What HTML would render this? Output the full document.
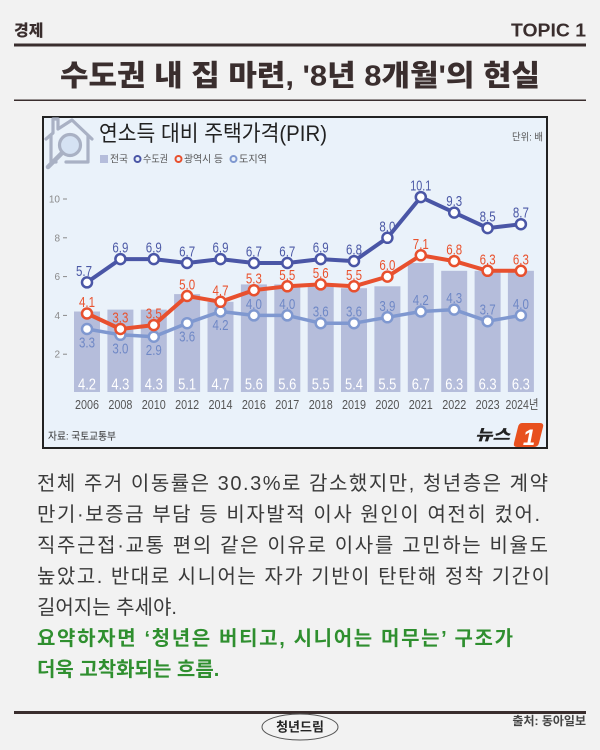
<!DOCTYPE html>
<html lang="ko">
<head>
<meta charset="utf-8">
<style>
  html,body{margin:0;padding:0;background:#f2f2f2;}
  body{width:600px;height:750px;overflow:hidden;}
  svg{display:block;}
  .kr{font-family:"Liberation Sans","Noto Sans CJK KR",sans-serif;}
  .num{font-family:"Liberation Sans","Noto Sans CJK KR",sans-serif;font-size:15px;text-anchor:middle;}
  .bl{fill:#4c59a6;}
  .rd{fill:#e9532f;}
  .lb{fill:#6f88c6;}
  .bv{font-family:"Liberation Sans",sans-serif;font-size:16px;fill:#ffffff;text-anchor:middle;}
  .yr{font-family:"Liberation Sans","Noto Sans CJK KR",sans-serif;font-size:13px;fill:#555;text-anchor:middle;}
  .tk{font-family:"Liberation Sans",sans-serif;font-size:10px;fill:#8a8a8a;text-anchor:end;}
  .body{font-family:"Liberation Sans","Noto Sans CJK KR",sans-serif;font-size:20px;fill:#3a3a3a;}
  .green{font-family:"Liberation Sans","Noto Sans CJK KR",sans-serif;font-size:20px;fill:#2f8f2f;font-weight:700;}
</style>
</head>
<body>
<svg width="600" height="750" viewBox="0 0 600 750" xmlns="http://www.w3.org/2000/svg">
  <rect x="0" y="0" width="600" height="750" fill="#f2f2f2"/>

  <!-- Header -->
  <text x="14" y="36" class="kr" font-size="16" font-weight="900" fill="#3a2e2e">경제</text>
  <text x="586" y="36.5" font-family="Liberation Sans, sans-serif" font-size="18" font-weight="700" fill="#3a2e2e" text-anchor="end" textLength="75" lengthAdjust="spacingAndGlyphs">TOPIC 1</text>
  <rect x="14" y="43.5" width="572" height="3" fill="#3a2e2e"/>
  <text x="60" y="85.5" class="kr" font-size="29" font-weight="900" fill="#3a2e2e" textLength="480" lengthAdjust="spacingAndGlyphs">수도권 내 집 마련, '8년 8개월'의 현실</text>
  <rect x="14" y="99.5" width="572" height="1.5" fill="#3a2e2e"/>

  <!-- Chart box -->
  <rect x="43" y="117" width="504" height="331" fill="#eaf2fa" stroke="#222" stroke-width="2"/>

  <!-- House icon -->
  <g fill="none" stroke="#a9b1c4" stroke-width="3.2" stroke-linejoin="round" stroke-linecap="round">
    <path d="M46,139 L53,133 L53,119 L58,119 L58,129 L72,120 L92,139"/>
    <path d="M51,136 L51,162 L56,162"/>
    <path d="M88,136 L88,162 L66,162"/>
  </g>
  <circle cx="70" cy="145" r="10.5" fill="#d5e2f3" stroke="#a9b1c4" stroke-width="3.2"/>
  <line x1="62" y1="153" x2="48" y2="167" stroke="#a9b1c4" stroke-width="4.5" stroke-linecap="round"/>

  <!-- Title -->
  <text x="99" y="141" class="kr" font-size="22" fill="#222" textLength="228" lengthAdjust="spacingAndGlyphs">연소득 대비 주택가격(PIR)</text>
  <text x="512" y="140.5" class="kr" font-size="10" fill="#555" textLength="31" lengthAdjust="spacingAndGlyphs">단위: 배</text>

  <!-- Legend -->
  <rect x="100" y="155" width="8" height="8" fill="#b5bddb"/>
  <text x="110" y="162.5" class="kr" font-size="10" fill="#555" textLength="18" lengthAdjust="spacingAndGlyphs">전국</text>
  <circle cx="137.5" cy="159" r="3" fill="none" stroke="#4a56a6" stroke-width="2"/>
  <text x="143" y="162.5" class="kr" font-size="10" fill="#555" textLength="25" lengthAdjust="spacingAndGlyphs">수도권</text>
  <circle cx="178.5" cy="159" r="3" fill="none" stroke="#e8502e" stroke-width="2"/>
  <text x="184" y="162.5" class="kr" font-size="10" fill="#555" textLength="39" lengthAdjust="spacingAndGlyphs">광역시 등</text>
  <circle cx="233.5" cy="159" r="3" fill="none" stroke="#7f98d0" stroke-width="2"/>
  <text x="239" y="162.5" class="kr" font-size="10" fill="#555" textLength="28" lengthAdjust="spacingAndGlyphs">도지역</text>

  <!-- Y ticks -->
  <g>
    <text x="60" y="202.5" class="tk">10</text><line x1="63" y1="199" x2="67" y2="199" stroke="#8a8a8a" stroke-width="1"/>
    <text x="60" y="241.3" class="tk">8</text><line x1="63" y1="237.8" x2="67" y2="237.8" stroke="#8a8a8a" stroke-width="1"/>
    <text x="60" y="280.1" class="tk">6</text><line x1="63" y1="276.6" x2="67" y2="276.6" stroke="#8a8a8a" stroke-width="1"/>
    <text x="60" y="318.9" class="tk">4</text><line x1="63" y1="315.4" x2="67" y2="315.4" stroke="#8a8a8a" stroke-width="1"/>
    <text x="60" y="357.7" class="tk">2</text><line x1="63" y1="354.2" x2="67" y2="354.2" stroke="#8a8a8a" stroke-width="1"/>
  </g>

  <!-- Bars -->
  <g fill="#b5bddb">
    <rect x="74" y="311.5" width="26" height="80.5"/>
    <rect x="107.4" y="309.6" width="26" height="82.4"/>
    <rect x="140.8" y="309.6" width="26" height="82.4"/>
    <rect x="174.1" y="294.1" width="26" height="97.9"/>
    <rect x="207.5" y="301.8" width="26" height="90.2"/>
    <rect x="240.9" y="284.4" width="26" height="107.6"/>
    <rect x="274.3" y="284.4" width="26" height="107.6"/>
    <rect x="307.7" y="286.3" width="26" height="105.7"/>
    <rect x="341.0" y="288.2" width="26" height="103.8"/>
    <rect x="374.4" y="286.3" width="26" height="105.7"/>
    <rect x="407.8" y="263.0" width="26" height="129"/>
    <rect x="441.2" y="270.8" width="26" height="121.2"/>
    <rect x="474.6" y="270.8" width="26" height="121.2"/>
    <rect x="507.9" y="270.8" width="26" height="121.2"/>
  </g>

  <!-- Bar values -->
  <g>
    <text x="87" y="389.5" class="bv" textLength="18" lengthAdjust="spacingAndGlyphs">4.2</text>
    <text x="120.4" y="389.5" class="bv" textLength="18" lengthAdjust="spacingAndGlyphs">4.3</text>
    <text x="153.8" y="389.5" class="bv" textLength="18" lengthAdjust="spacingAndGlyphs">4.3</text>
    <text x="187.1" y="389.5" class="bv" textLength="18" lengthAdjust="spacingAndGlyphs">5.1</text>
    <text x="220.5" y="389.5" class="bv" textLength="18" lengthAdjust="spacingAndGlyphs">4.7</text>
    <text x="253.9" y="389.5" class="bv" textLength="18" lengthAdjust="spacingAndGlyphs">5.6</text>
    <text x="287.3" y="389.5" class="bv" textLength="18" lengthAdjust="spacingAndGlyphs">5.6</text>
    <text x="320.7" y="389.5" class="bv" textLength="18" lengthAdjust="spacingAndGlyphs">5.5</text>
    <text x="354" y="389.5" class="bv" textLength="18" lengthAdjust="spacingAndGlyphs">5.4</text>
    <text x="387.4" y="389.5" class="bv" textLength="18" lengthAdjust="spacingAndGlyphs">5.5</text>
    <text x="420.8" y="389.5" class="bv" textLength="18" lengthAdjust="spacingAndGlyphs">6.7</text>
    <text x="454.2" y="389.5" class="bv" textLength="18" lengthAdjust="spacingAndGlyphs">6.3</text>
    <text x="487.6" y="389.5" class="bv" textLength="18" lengthAdjust="spacingAndGlyphs">6.3</text>
    <text x="520.9" y="389.5" class="bv" textLength="18" lengthAdjust="spacingAndGlyphs">6.3</text>
  </g>

  <!-- Year labels -->
  <g>
    <text x="87" y="409" class="yr" textLength="24" lengthAdjust="spacingAndGlyphs">2006</text>
    <text x="120.4" y="409" class="yr" textLength="24" lengthAdjust="spacingAndGlyphs">2008</text>
    <text x="153.8" y="409" class="yr" textLength="24" lengthAdjust="spacingAndGlyphs">2010</text>
    <text x="187.1" y="409" class="yr" textLength="24" lengthAdjust="spacingAndGlyphs">2012</text>
    <text x="220.5" y="409" class="yr" textLength="24" lengthAdjust="spacingAndGlyphs">2014</text>
    <text x="253.9" y="409" class="yr" textLength="24" lengthAdjust="spacingAndGlyphs">2016</text>
    <text x="287.3" y="409" class="yr" textLength="24" lengthAdjust="spacingAndGlyphs">2017</text>
    <text x="320.7" y="409" class="yr" textLength="24" lengthAdjust="spacingAndGlyphs">2018</text>
    <text x="354" y="409" class="yr" textLength="24" lengthAdjust="spacingAndGlyphs">2019</text>
    <text x="387.4" y="409" class="yr" textLength="24" lengthAdjust="spacingAndGlyphs">2020</text>
    <text x="420.8" y="409" class="yr" textLength="24" lengthAdjust="spacingAndGlyphs">2021</text>
    <text x="454.2" y="409" class="yr" textLength="24" lengthAdjust="spacingAndGlyphs">2022</text>
    <text x="487.6" y="409" class="yr" textLength="24" lengthAdjust="spacingAndGlyphs">2023</text>
    <text x="522" y="409" class="yr" textLength="33" lengthAdjust="spacingAndGlyphs">2024년</text>
  </g>

  <!-- Lines -->
  <polyline fill="none" stroke="#7f98d0" stroke-width="3.5" stroke-linejoin="round"
    points="87,329 120.4,334.8 153.8,336.7 187.1,323.2 220.5,311.5 253.9,315.4 287.3,315.4 320.7,323.2 354,323.2 387.4,317.3 420.8,311.5 454.2,309.6 487.6,321.2 520.9,315.4"/>
  <polyline fill="none" stroke="#e8502e" stroke-width="4" stroke-linejoin="round"
    points="87,313.5 120.4,329 153.8,325.1 187.1,296 220.5,301.8 253.9,290.2 287.3,286.3 320.7,284.4 354,286.3 387.4,276.6 420.8,255.3 454.2,261.1 487.6,270.8 520.9,270.8"/>
  <polyline fill="none" stroke="#4a56a6" stroke-width="4" stroke-linejoin="round"
    points="87,282.4 120.4,259.1 153.8,259.1 187.1,263 220.5,259.1 253.9,263 287.3,263 320.7,259.1 354,261.1 387.4,237.8 420.8,197.1 454.2,212.6 487.6,228.1 520.9,224.2"/>

  <!-- Markers -->
  <g fill="#fff" stroke="#7f98d0" stroke-width="2.5">
    <circle cx="87" cy="329" r="5"/><circle cx="120.4" cy="334.8" r="5"/><circle cx="153.8" cy="336.7" r="5"/>
    <circle cx="187.1" cy="323.2" r="5"/><circle cx="220.5" cy="311.5" r="5"/><circle cx="253.9" cy="315.4" r="5"/>
    <circle cx="287.3" cy="315.4" r="5"/><circle cx="320.7" cy="323.2" r="5"/><circle cx="354" cy="323.2" r="5"/>
    <circle cx="387.4" cy="317.3" r="5"/><circle cx="420.8" cy="311.5" r="5"/><circle cx="454.2" cy="309.6" r="5"/>
    <circle cx="487.6" cy="321.2" r="5"/><circle cx="520.9" cy="315.4" r="5"/>
  </g>
  <g fill="#fff" stroke="#e8502e" stroke-width="2.5">
    <circle cx="87" cy="313.5" r="5"/><circle cx="120.4" cy="329" r="5"/><circle cx="153.8" cy="325.1" r="5"/>
    <circle cx="187.1" cy="296" r="5"/><circle cx="220.5" cy="301.8" r="5"/><circle cx="253.9" cy="290.2" r="5"/>
    <circle cx="287.3" cy="286.3" r="5"/><circle cx="320.7" cy="284.4" r="5"/><circle cx="354" cy="286.3" r="5"/>
    <circle cx="387.4" cy="276.6" r="5"/><circle cx="420.8" cy="255.3" r="5"/><circle cx="454.2" cy="261.1" r="5"/>
    <circle cx="487.6" cy="270.8" r="5"/><circle cx="520.9" cy="270.8" r="5"/>
  </g>
  <g fill="#fff" stroke="#4a56a6" stroke-width="2.5">
    <circle cx="87" cy="282.4" r="5"/><circle cx="120.4" cy="259.1" r="5"/><circle cx="153.8" cy="259.1" r="5"/>
    <circle cx="187.1" cy="263" r="5"/><circle cx="220.5" cy="259.1" r="5"/><circle cx="253.9" cy="263" r="5"/>
    <circle cx="287.3" cy="263" r="5"/><circle cx="320.7" cy="259.1" r="5"/><circle cx="354" cy="261.1" r="5"/>
    <circle cx="387.4" cy="237.8" r="5"/><circle cx="420.8" cy="197.1" r="5"/><circle cx="454.2" cy="212.6" r="5"/>
    <circle cx="487.6" cy="228.1" r="5"/><circle cx="520.9" cy="224.2" r="5"/>
  </g>

  <!-- Blue labels -->
  <g class="num bl">
    <text x="84" y="275.9" textLength="16" lengthAdjust="spacingAndGlyphs">5.7</text>
    <text x="120.4" y="252.6" textLength="16" lengthAdjust="spacingAndGlyphs">6.9</text>
    <text x="153.8" y="252.6" textLength="16" lengthAdjust="spacingAndGlyphs">6.9</text>
    <text x="187.1" y="256.5" textLength="16" lengthAdjust="spacingAndGlyphs">6.7</text>
    <text x="220.5" y="252.6" textLength="16" lengthAdjust="spacingAndGlyphs">6.9</text>
    <text x="253.9" y="256.5" textLength="16" lengthAdjust="spacingAndGlyphs">6.7</text>
    <text x="287.3" y="256.5" textLength="16" lengthAdjust="spacingAndGlyphs">6.7</text>
    <text x="320.7" y="252.6" textLength="16" lengthAdjust="spacingAndGlyphs">6.9</text>
    <text x="354" y="254.6" textLength="16" lengthAdjust="spacingAndGlyphs">6.8</text>
    <text x="387.4" y="231.3" textLength="16" lengthAdjust="spacingAndGlyphs">8.0</text>
    <text x="420.8" y="190.6" textLength="21" lengthAdjust="spacingAndGlyphs">10.1</text>
    <text x="454.2" y="206.1" textLength="16" lengthAdjust="spacingAndGlyphs">9.3</text>
    <text x="487.6" y="221.6" textLength="16" lengthAdjust="spacingAndGlyphs">8.5</text>
    <text x="520.9" y="217.7" textLength="16" lengthAdjust="spacingAndGlyphs">8.7</text>
  </g>
  <!-- Red labels -->
  <g class="num rd">
    <text x="87" y="307" textLength="16" lengthAdjust="spacingAndGlyphs">4.1</text>
    <text x="120.4" y="322.5" textLength="16" lengthAdjust="spacingAndGlyphs">3.3</text>
    <text x="153.8" y="318.6" textLength="16" lengthAdjust="spacingAndGlyphs">3.5</text>
    <text x="187.1" y="289.5" textLength="16" lengthAdjust="spacingAndGlyphs">5.0</text>
    <text x="220.5" y="295.3" textLength="16" lengthAdjust="spacingAndGlyphs">4.7</text>
    <text x="253.9" y="283.7" textLength="16" lengthAdjust="spacingAndGlyphs">5.3</text>
    <text x="287.3" y="279.8" textLength="16" lengthAdjust="spacingAndGlyphs">5.5</text>
    <text x="320.7" y="277.9" textLength="16" lengthAdjust="spacingAndGlyphs">5.6</text>
    <text x="354" y="279.8" textLength="16" lengthAdjust="spacingAndGlyphs">5.5</text>
    <text x="387.4" y="270.1" textLength="16" lengthAdjust="spacingAndGlyphs">6.0</text>
    <text x="420.8" y="248.8" textLength="16" lengthAdjust="spacingAndGlyphs">7.1</text>
    <text x="454.2" y="254.6" textLength="16" lengthAdjust="spacingAndGlyphs">6.8</text>
    <text x="487.6" y="264.3" textLength="16" lengthAdjust="spacingAndGlyphs">6.3</text>
    <text x="520.9" y="264.3" textLength="16" lengthAdjust="spacingAndGlyphs">6.3</text>
  </g>
  <!-- Light blue labels -->
  <g class="num lb">
    <text x="87" y="347.5" textLength="16" lengthAdjust="spacingAndGlyphs">3.3</text>
    <text x="120.4" y="353.3" textLength="16" lengthAdjust="spacingAndGlyphs">3.0</text>
    <text x="153.8" y="355.2" textLength="16" lengthAdjust="spacingAndGlyphs">2.9</text>
    <text x="187.1" y="341.7" textLength="16" lengthAdjust="spacingAndGlyphs">3.6</text>
    <text x="220.5" y="330" textLength="16" lengthAdjust="spacingAndGlyphs">4.2</text>
    <text x="253.9" y="308.9" textLength="16" lengthAdjust="spacingAndGlyphs">4.0</text>
    <text x="287.3" y="308.9" textLength="16" lengthAdjust="spacingAndGlyphs">4.0</text>
    <text x="320.7" y="316.7" textLength="16" lengthAdjust="spacingAndGlyphs">3.6</text>
    <text x="354" y="316.7" textLength="16" lengthAdjust="spacingAndGlyphs">3.6</text>
    <text x="387.4" y="310.8" textLength="16" lengthAdjust="spacingAndGlyphs">3.9</text>
    <text x="420.8" y="305" textLength="16" lengthAdjust="spacingAndGlyphs">4.2</text>
    <text x="454.2" y="303.1" textLength="16" lengthAdjust="spacingAndGlyphs">4.3</text>
    <text x="487.6" y="314.7" textLength="16" lengthAdjust="spacingAndGlyphs">3.7</text>
    <text x="520.9" y="308.9" textLength="16" lengthAdjust="spacingAndGlyphs">4.0</text>
  </g>

  <!-- Source -->
  <text x="48" y="439.5" class="kr" font-size="10.5" fill="#333" textLength="68" lengthAdjust="spacingAndGlyphs">자료: 국토교통부</text>

  <!-- News1 logo -->
  <text x="475" y="440" class="kr" font-size="15" font-weight="900" font-style="italic" fill="#222" textLength="35" lengthAdjust="spacingAndGlyphs">뉴스</text>
  <path d="M522,423 L540,423 Q544,423 543,427 L539,443 Q538,447 534,447 L517,447 Q513,447 514,443 L518,427 Q519,423 522,423 Z" fill="#e8501e"/>
  <text x="529" y="445" font-family="Liberation Sans, sans-serif" font-size="22" font-weight="700" font-style="italic" fill="#fff" text-anchor="middle">1</text>

  <!-- Body text -->
  <text x="37" y="490" class="body" textLength="511" lengthAdjust="spacing">전체 주거 이동률은 30.3%로 감소했지만, 청년층은 계약</text>
  <text x="37" y="521" class="body" textLength="503" lengthAdjust="spacing">만기·보증금 부담 등 비자발적 이사 원인이 여전히 컸어.</text>
  <text x="37" y="552" class="body" textLength="511" lengthAdjust="spacing">직주근접·교통 편의 같은 이유로 이사를 고민하는 비율도</text>
  <text x="37" y="583" class="body" textLength="513" lengthAdjust="spacing">높았고. 반대로 시니어는 자가 기반이 탄탄해 정착 기간이</text>
  <text x="37" y="614" class="body">길어지는 추세야.</text>
  <text x="37" y="645" class="green" textLength="476" lengthAdjust="spacing">요약하자면 ‘청년은 버티고, 시니어는 머무는’ 구조가</text>
  <text x="37" y="676" class="green">더욱 고착화되는 흐름.</text>

  <!-- Footer -->
  <rect x="14" y="711" width="572" height="3" fill="#3a2e2e"/>
  <ellipse cx="300" cy="727" rx="38" ry="13" fill="none" stroke="#555" stroke-width="1"/>
  <text x="300" y="731.5" class="kr" font-size="13" font-weight="700" fill="#222" text-anchor="middle">청년드림</text>
  <text x="586" y="725" class="kr" font-size="12" font-weight="700" fill="#444" text-anchor="end">출처: 동아일보</text>
</svg>
</body>
</html>
